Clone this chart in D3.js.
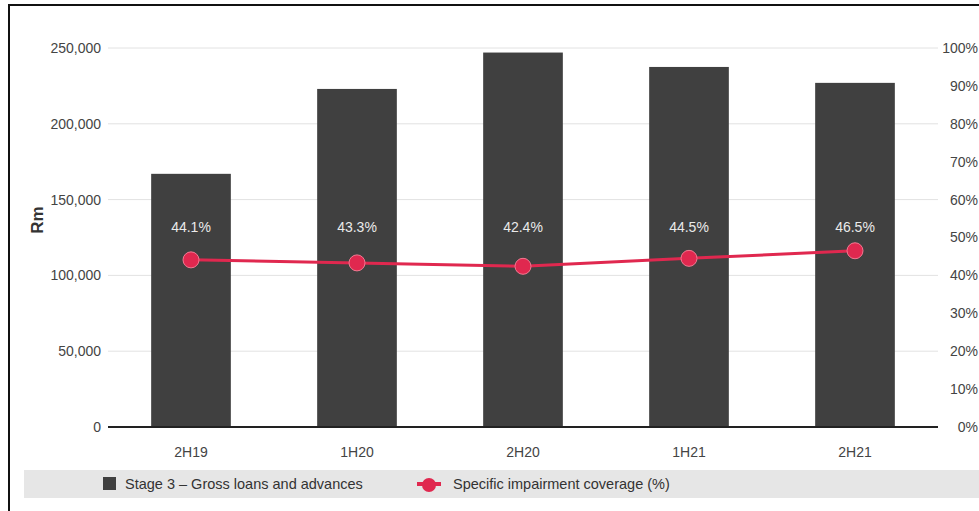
<!DOCTYPE html>
<html>
<head>
<meta charset="utf-8">
<script src="https://cdn.jsdelivr.net/npm/d3@7"></script>
<style>
  html, body { margin: 0; padding: 0; background: #fff; overflow: hidden; }
  svg { display: block; }
  text { font-family: "Liberation Sans", Arial, sans-serif; }
</style>
</head>
<body>
<svg width="979" height="511"></svg>
<script>
  var categories = ["2H19", "1H20", "2H20", "1H21", "2H21"];
  var loans = [167000, 223000, 247000, 237500, 227000];
  var coverage = [44.1, 43.3, 42.4, 44.5, 46.5];
  var leftTicks = [0, 50000, 100000, 150000, 200000, 250000];
  var rightTicks = [0, 10, 20, 30, 40, 50, 60, 70, 80, 90, 100];

  var svg = d3.select("svg");
  var margin = { top: 48, left: 108, right: 41, bottom: 84 };
  var width = +svg.attr("width");
  var height = +svg.attr("height");
  var innerWidth = width - margin.left - margin.right;
  var innerHeight = height - margin.top - margin.bottom;

  // frame
  svg.append("path")
    .attr("d", "M9,511 V5 H979")
    .attr("fill", "none")
    .attr("stroke", "#111")
    .attr("stroke-width", 2);

  var g = svg.append("g")
    .attr("transform", "translate(" + margin.left + "," + margin.top + ")");

  var xScale = d3.scaleBand()
    .domain(categories)
    .range([0, innerWidth])
    .paddingInner(0.52)
    .paddingOuter(0.26);

  var yScale = d3.scaleLinear().domain([0, 250000]).range([innerHeight, 0]);
  var y2Scale = d3.scaleLinear().domain([0, 100]).range([innerHeight, 0]);

  // gridlines
  g.append("g")
    .selectAll("line")
    .data(leftTicks.slice(1))
    .enter()
    .append("line")
    .attr("x1", 0).attr("x2", innerWidth)
    .attr("y1", function (d) { return yScale(d); })
    .attr("y2", function (d) { return yScale(d); })
    .attr("stroke", "#e2e2e2")
    .attr("stroke-width", 1);

  // left axis
  var yAxis = d3.axisLeft(yScale)
    .tickValues(leftTicks)
    .tickSize(0)
    .tickPadding(7)
    .tickFormat(d3.format(","));
  var yAxisG = g.append("g").call(yAxis);
  yAxisG.select(".domain").remove();
  yAxisG.selectAll("text")
    .attr("font-size", 14)
    .attr("fill", "#444")
    .style("font-family", "'Liberation Sans', Arial, sans-serif");

  // right axis
  var y2Axis = d3.axisRight(y2Scale)
    .tickValues(rightTicks)
    .tickSize(0)
    .tickFormat(function (d) { return d + "%"; });
  var y2AxisG = g.append("g")
    .attr("transform", "translate(" + (innerWidth + 40) + ",0)")
    .call(y2Axis);
  y2AxisG.select(".domain").remove();
  y2AxisG.selectAll("text")
    .attr("x", 0)
    .attr("text-anchor", "end")
    .attr("font-size", 14)
    .attr("fill", "#444")
    .style("font-family", "'Liberation Sans', Arial, sans-serif");

  // y title
  svg.append("text")
    .attr("transform", "translate(43,220) rotate(-90)")
    .attr("text-anchor", "middle")
    .attr("font-size", 17)
    .attr("font-weight", "bold")
    .attr("fill", "#333")
    .text("Rm");

  // bars
  g.selectAll("rect.bar")
    .data(loans)
    .enter()
    .append("rect")
    .attr("class", "bar")
    .attr("x", function (d, i) { return xScale(categories[i]); })
    .attr("y", function (d) { return yScale(d); })
    .attr("width", xScale.bandwidth())
    .attr("height", function (d) { return innerHeight - yScale(d); })
    .attr("fill", "#404040");

  // baseline
  g.append("line")
    .attr("x1", 0).attr("x2", innerWidth)
    .attr("y1", innerHeight).attr("y2", innerHeight)
    .attr("stroke", "#222")
    .attr("stroke-width", 2);

  // x labels
  var xAxis = d3.axisBottom(xScale).tickSize(0).tickPadding(20);
  var xAxisG = g.append("g")
    .attr("transform", "translate(0," + innerHeight + ")")
    .call(xAxis);
  xAxisG.select(".domain").remove();
  xAxisG.selectAll("text")
    .attr("font-size", 14)
    .attr("fill", "#444")
    .style("font-family", "'Liberation Sans', Arial, sans-serif");

  // coverage line
  var cx = function (d, i) { return xScale(categories[i]) + xScale.bandwidth() / 2; };
  var line = d3.line()
    .x(cx)
    .y(function (d) { return y2Scale(d); });

  g.append("path")
    .datum(coverage)
    .attr("d", line)
    .attr("fill", "none")
    .attr("stroke", "#e0284f")
    .attr("stroke-width", 3);

  g.selectAll("circle.pt")
    .data(coverage)
    .enter()
    .append("circle")
    .attr("class", "pt")
    .attr("cx", cx)
    .attr("cy", function (d) { return y2Scale(d); })
    .attr("r", 8)
    .attr("fill", "#e0284f")
    .attr("stroke", "#f27a92")
    .attr("stroke-width", 1);

  // value labels sit on one row inside the bars
  g.selectAll("text.lbl")
    .data(coverage)
    .enter()
    .append("text")
    .attr("class", "lbl")
    .attr("x", cx)
    .attr("y", 184)
    .attr("text-anchor", "middle")
    .attr("font-size", 14)
    .attr("fill", "#eaeaea")
    .text(function (d) { return d.toFixed(1) + "%"; });

  // legend
  var legend = svg.append("g");
  legend.append("rect")
    .attr("x", 24).attr("y", 470)
    .attr("width", 955).attr("height", 28)
    .attr("fill", "#e6e6e6");
  legend.append("rect")
    .attr("x", 103).attr("y", 477)
    .attr("width", 13).attr("height", 13)
    .attr("fill", "#404040");
  legend.append("text")
    .attr("x", 125).attr("y", 489)
    .attr("font-size", 14.5)
    .attr("fill", "#333")
    .text("Stage 3 – Gross loans and advances");
  legend.append("line")
    .attr("x1", 417).attr("x2", 441)
    .attr("y1", 484).attr("y2", 484)
    .attr("stroke", "#e0284f")
    .attr("stroke-width", 4);
  legend.append("circle")
    .attr("cx", 429).attr("cy", 485)
    .attr("r", 7)
    .attr("fill", "#e0284f");
  legend.append("text")
    .attr("x", 453).attr("y", 489)
    .attr("font-size", 14.5)
    .attr("fill", "#333")
    .text("Specific impairment coverage (%)");
</script>
</body>
</html>
